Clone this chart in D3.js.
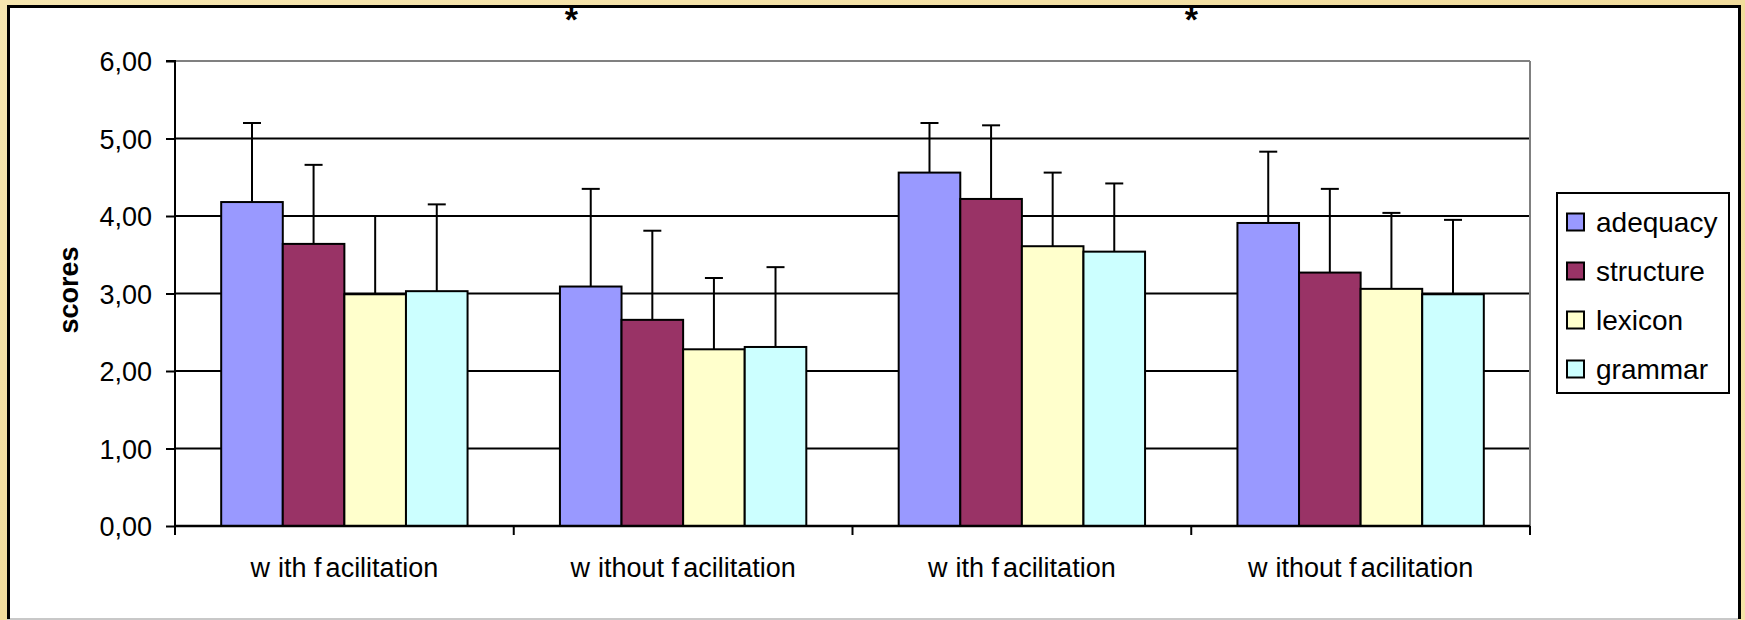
<!DOCTYPE html>
<html>
<head>
<meta charset="utf-8">
<script src="https://cdn.jsdelivr.net/npm/d3@7"></script>
<style>
  body { margin: 0; background: #f3e2a9; }
  svg { display: block; font-family: "Liberation Sans", Arial, sans-serif; }
</style>
</head>
<body>
<div class="view"></div>
<script>
// data
const categories = ["with facilitation", "without facilitation", "with facilitation", "without facilitation"];
const seriesNames = ["adequacy", "structure", "lexicon", "grammar"];
const seriesColors = ["#9999ff", "#993366", "#ffffcc", "#ccffff"];

const adequacyMean = [4.18, 3.09, 4.56, 3.91];
const structureMean = [3.64, 2.66, 4.22, 3.27];
const lexiconMean = [2.99, 2.28, 3.61, 3.06];
const grammarMean = [3.03, 2.31, 3.54, 2.99];

const adequacySD = [1.02, 1.26, 0.64, 0.92];
const structureSD = [1.02, 1.15, 0.95, 1.08];
const lexiconSD = [1.01, 0.92, 0.95, 0.98];
const grammarSD = [1.12, 1.03, 0.88, 0.96];

const yTicks = [0, 1, 2, 3, 4, 5, 6];
const starAt = [1.17, 3.0]; // significance stars, position in category units along the x axis

// Building table for drawing
const means = [adequacyMean, structureMean, lexiconMean, grammarMean];
const sds = [adequacySD, structureSD, lexiconSD, grammarSD];
let table = [];
categories.forEach((c, i) => {
    seriesNames.forEach((s, j) => {
        table.push({cat: i, series: s, color: seriesColors[j], mean: means[j][i], sd: sds[j][i]});
    });
});

const W = 1745, H = 620;
const margin = {top: 61, right: 215, bottom: 94, left: 175};

let svg = d3.select(".view").append("svg")
    .attr("width", W)
    .attr("height", H);

// parchment background with a bit of shading
let defs = svg.append("defs");
let grad = defs.append("linearGradient").attr("id", "parch").attr("x1", 0).attr("y1", 0).attr("x2", 1).attr("y2", 1);
grad.append("stop").attr("offset", "0%").attr("stop-color", "#f6e6b0");
grad.append("stop").attr("offset", "50%").attr("stop-color", "#f1dc9c");
grad.append("stop").attr("offset", "100%").attr("stop-color", "#f5e3a8");
svg.append("rect").attr("width", W).attr("height", H).attr("fill", "url(#parch)");

// white panel
svg.append("rect")
    .attr("x", 7).attr("y", 5).attr("width", 1731).attr("height", 614)
    .attr("fill", "white");
svg.append("line").attr("x1", 7).attr("x2", 1738).attr("y1", 619).attr("y2", 619)
    .attr("stroke", "#c8c8c8").attr("stroke-width", 2);
svg.append("path")
    .attr("d", "M8.5,619 V6.5 H1739.5 V619")
    .attr("fill", "none").attr("stroke", "black").attr("stroke-width", 3);

//Scales
let x = d3.scaleBand()
    .domain(d3.range(categories.length))
    .range([margin.left, W - margin.right]);
let x1 = d3.scaleBand()
    .domain(seriesNames)
    .range([0, x.bandwidth()])
    .paddingInner(0)
    .paddingOuter(0.75);
let y = d3.scaleLinear()
    .domain([0, 6])
    .range([H - margin.bottom, margin.top]);

let g = svg.append("g");

// gridlines (the top one is the grey plot border)
g.append("g").selectAll("line")
    .data(yTicks.filter(d => d > 0))
    .join("line")
    .attr("x1", margin.left).attr("x2", W - margin.right)
    .attr("y1", d => y(d)).attr("y2", d => y(d))
    .attr("stroke", d => d === 6 ? "#808080" : "black")
    .attr("stroke-width", 2);
g.append("line")
    .attr("x1", W - margin.right).attr("x2", W - margin.right)
    .attr("y1", y(6)).attr("y2", y(0))
    .attr("stroke", "#808080").attr("stroke-width", 2);

// bars
g.append("g").selectAll("rect")
    .data(table)
    .join("rect")
    .attr("x", d => x(d.cat) + x1(d.series))
    .attr("y", d => y(d.mean))
    .attr("width", x1.bandwidth())
    .attr("height", d => y(0) - y(d.mean))
    .attr("fill", d => d.color)
    .attr("stroke", "black")
    .attr("stroke-width", 2);

// error bars (upper half only)
let err = g.append("g").attr("stroke", "black").attr("stroke-width", 2);
err.selectAll("line.v")
    .data(table)
    .join("line")
    .attr("class", "v")
    .attr("x1", d => x(d.cat) + x1(d.series) + x1.bandwidth() / 2)
    .attr("x2", d => x(d.cat) + x1(d.series) + x1.bandwidth() / 2)
    .attr("y1", d => y(d.mean))
    .attr("y2", d => y(d.mean + d.sd));
err.selectAll("line.cap")
    .data(table)
    .join("line")
    .attr("class", "cap")
    .attr("x1", d => x(d.cat) + x1(d.series) + x1.bandwidth() / 2 - 9)
    .attr("x2", d => x(d.cat) + x1(d.series) + x1.bandwidth() / 2 + 9)
    .attr("y1", d => y(d.mean + d.sd))
    .attr("y2", d => y(d.mean + d.sd));

// y axis
let yAxis = g.append("g")
    .attr("transform", "translate(" + margin.left + ",0)")
    .call(d3.axisLeft(y).tickValues(yTicks).tickSize(9).tickPadding(14)
        .tickFormat(d => d3.format(".2f")(d).replace(".", ",")));
yAxis.selectAll("path, line").attr("stroke", "black").attr("stroke-width", 2);
yAxis.select(".domain").attr("d", "M" + (-9) + "," + y(6) + "H0V" + y(0));
yAxis.selectAll("text")
    .attr("font-size", 27)
    .attr("font-family", "Liberation Sans, Arial, sans-serif")
    .attr("fill", "black")
    .attr("dy", "0.36em");

// x axis: ticks at category boundaries
let xAxis = g.append("g");
xAxis.append("line")
    .attr("x1", margin.left).attr("x2", W - margin.right)
    .attr("y1", y(0)).attr("y2", y(0))
    .attr("stroke", "black").attr("stroke-width", 2.5);
xAxis.selectAll("line.tick")
    .data(d3.range(categories.length + 1))
    .join("line")
    .attr("class", "tick")
    .attr("x1", d => margin.left + d * x.step())
    .attr("x2", d => margin.left + d * x.step())
    .attr("y1", y(0)).attr("y2", y(0) + 9)
    .attr("stroke", "black").attr("stroke-width", 2);

// category labels, with the odd gaps of the original rendering
let labels = xAxis.selectAll("text")
    .data(categories)
    .join("text")
    .attr("x", (d, i) => x(i) + x.bandwidth() / 2)
    .attr("y", 577)
    .attr("text-anchor", "middle")
    .attr("font-size", 27)
    .attr("fill", "black");
labels.each(function (d) {
    let t = d3.select(this);
    let parts = [d.slice(0, 1), d.slice(1, d.indexOf(" ") + 2), d.slice(d.indexOf(" ") + 2)];
    parts.forEach((p, k) => {
        t.append("tspan").attr("dx", k === 0 ? 0 : (k === 1 ? 8 : 4)).text(p);
    });
});

// y axis title
svg.append("text")
    .attr("transform", "translate(78,290) rotate(-90)")
    .attr("text-anchor", "middle")
    .attr("font-size", 27)
    .attr("font-weight", "bold")
    .attr("fill", "black")
    .text("scores");

// significance stars on the top edge
svg.selectAll("text.star")
    .data(starAt)
    .join("text")
    .attr("class", "star")
    .attr("x", d => margin.left + d * x.step())
    .attr("y", 31)
    .attr("text-anchor", "middle")
    .attr("font-size", 34)
    .attr("font-weight", "bold")
    .attr("fill", "black")
    .text("*");

// legend
let legend = svg.append("g").attr("transform", "translate(1557,193)");
legend.append("rect")
    .attr("width", 172).attr("height", 200)
    .attr("fill", "white").attr("stroke", "black").attr("stroke-width", 2);
let items = legend.selectAll("g.item")
    .data(seriesNames)
    .join("g")
    .attr("class", "item")
    .attr("transform", (d, i) => "translate(0," + (29 + i * 49) + ")");
items.append("rect")
    .attr("x", 10).attr("y", -8.5)
    .attr("width", 17).attr("height", 17)
    .attr("fill", (d, i) => seriesColors[i])
    .attr("stroke", "black").attr("stroke-width", 2);
items.append("text")
    .attr("x", 39)
    .attr("dy", "0.36em")
    .attr("font-size", 28)
    .attr("fill", "black")
    .text(d => d);
</script>
</body>
</html>
